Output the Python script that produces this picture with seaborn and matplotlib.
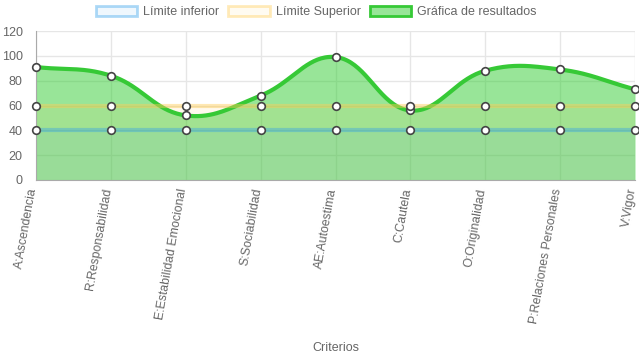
import numpy as np
import pandas as pd
import matplotlib
matplotlib.use("Agg")
import matplotlib.pyplot as plt
import matplotlib.transforms as mtransforms
from matplotlib.patches import Patch
import seaborn as sns

categories = ["A:Ascendencia", "R:Responsabilidad", "E:Estabilidad Emocional",
              "S:Sociabilidad", "AE:Autoestima", "C:Cautela", "O:Originalidad",
              "P:Relaciones Personales", "V:Vigor"]
limite_inferior = [40, 40, 40, 40, 40, 40, 40, 40, 40]
limite_superior = [60, 60, 60, 60, 60, 60, 60, 60, 60]
resultados = [91, 84, 52, 68, 99, 56, 88, 89, 73]
y_ticks = [0, 20, 40, 60, 80, 100, 120]
legend_labels = ["Límite inferior", "Límite Superior", "Gráfica de resultados"]
x_title = "Criterios"

sns.set_style("white")
plt.rcParams["font.family"] = ["Liberation Sans", "DejaVu Sans"]

fig = plt.figure(figsize=(6.39, 3.60), dpi=100)
ax = fig.add_axes([36 / 639, 1 - 180 / 360, (635 - 36) / 639, (180 - 31) / 360])
n = len(categories)
x = np.arange(n)
ax.set_xlim(0, n - 1)
ax.set_ylim(0, 120)

# Chart.js style bezier spline (tension 0.4) in display space
def chartjs_curve(xs, ys, tension=0.4, steps=40):
    pts = ax.transData.transform(np.column_stack([xs, ys]))
    m = len(pts)
    cps = []
    for i in range(m):
        prev = pts[i - 1] if i > 0 else pts[i]
        cur = pts[i]
        nxt = pts[i + 1] if i < m - 1 else pts[i]
        d01 = np.hypot(*(cur - prev))
        d12 = np.hypot(*(nxt - cur))
        tot = d01 + d12
        s01 = d01 / tot if tot else 0
        s12 = d12 / tot if tot else 0
        fa = tension * s01
        fb = tension * s12
        cps.append((cur - fa * (nxt - prev), cur + fb * (nxt - prev)))
    out = [pts[0]]
    t = np.linspace(0, 1, steps)[1:, None]
    for i in range(m - 1):
        p0 = pts[i]; p1 = cps[i][1]; p2 = cps[i + 1][0]; p3 = pts[i + 1]
        seg = ((1 - t) ** 3) * p0 + 3 * ((1 - t) ** 2) * t * p1 + 3 * (1 - t) * t ** 2 * p2 + t ** 3 * p3
        out.extend(seg)
    out = np.array(out)
    data = ax.transData.inverted().transform(out)
    return data[:, 0], data[:, 1]

cx, cy = chartjs_curve(x, resultados)
curve = pd.DataFrame({"x": cx, "y": cy})

green_line = "#36c936"
green_fill = (50 / 255, 205 / 255, 50 / 255, 0.5)
blue = (54 / 255, 162 / 255, 235 / 255)
yellow = (255 / 255, 205 / 255, 86 / 255)

# grid
ax.set_yticks(y_ticks)
ax.set_xticks(x)
ax.grid(True, color="#e6e6e6", linewidth=1)
ax.set_axisbelow(True)

# fills
ax.fill_between(curve["x"], 0, curve["y"], color=green_fill, linewidth=0, zorder=2)
ax.fill_between(x, 0, limite_superior, color=(*yellow, 0.1), linewidth=0, zorder=2.1)
ax.fill_between(x, 0, limite_inferior, color=(*blue, 0.08), linewidth=0, zorder=2.2)

# lines
sns.lineplot(data=curve, x="x", y="y", ax=ax, color=green_line, linewidth=3, zorder=3,
             sort=False, estimator=None)
sns.lineplot(x=x, y=limite_superior, ax=ax, color=(*yellow, 0.45), linewidth=3, zorder=3.1)
sns.lineplot(x=x, y=limite_inferior, ax=ax, color=(*blue, 0.4), linewidth=3, zorder=3.2)

# points
for vals in (resultados, limite_superior, limite_inferior):
    sns.scatterplot(x=x, y=vals, ax=ax, s=30, color="white", edgecolor="#444444",
                    linewidth=1.2, zorder=5, clip_on=False)

ax.set_xlim(0, n - 1)
ax.set_ylim(0, 120)

for s in ["top", "right"]:
    ax.spines[s].set_visible(False)
ax.spines["left"].set_color("#aaaaaa")
ax.spines["bottom"].set_color("#aaaaaa")
ax.tick_params(axis="both", length=6, color="#e0e0e0", labelcolor="#666666", labelsize=9)
ax.tick_params(axis="x", pad=0)
ax.set_yticklabels([str(v) for v in y_ticks])
ax.set_xticklabels(categories, rotation=80, ha="right", va="center", rotation_mode="anchor",
                   fontsize=8.8)
offset = mtransforms.ScaledTranslation(-2.5 / 100, 0, fig.dpi_scale_trans)
for lbl in ax.get_xticklabels():
    lbl.set_transform(lbl.get_transform() + offset)
ax.set_xlabel(x_title, color="#666666", fontsize=9)
ax.xaxis.set_label_coords(0.5, -1.09)
ax.set_ylabel("")

handles = [
    Patch(facecolor=(*blue, 0.08), edgecolor=(*blue, 0.4), linewidth=2),
    Patch(facecolor=(*yellow, 0.08), edgecolor=(*yellow, 0.4), linewidth=2),
    Patch(facecolor=green_fill, edgecolor=green_line, linewidth=2),
]
fig.legend(handles, legend_labels, loc="upper center", bbox_to_anchor=(0.495, 1.015), ncol=3,
           frameon=False, handlelength=3.3, handleheight=0.9, columnspacing=0.7,
           handletextpad=0.5, fontsize=9, labelcolor="#666666")

fig.savefig("out.png", dpi=100)
